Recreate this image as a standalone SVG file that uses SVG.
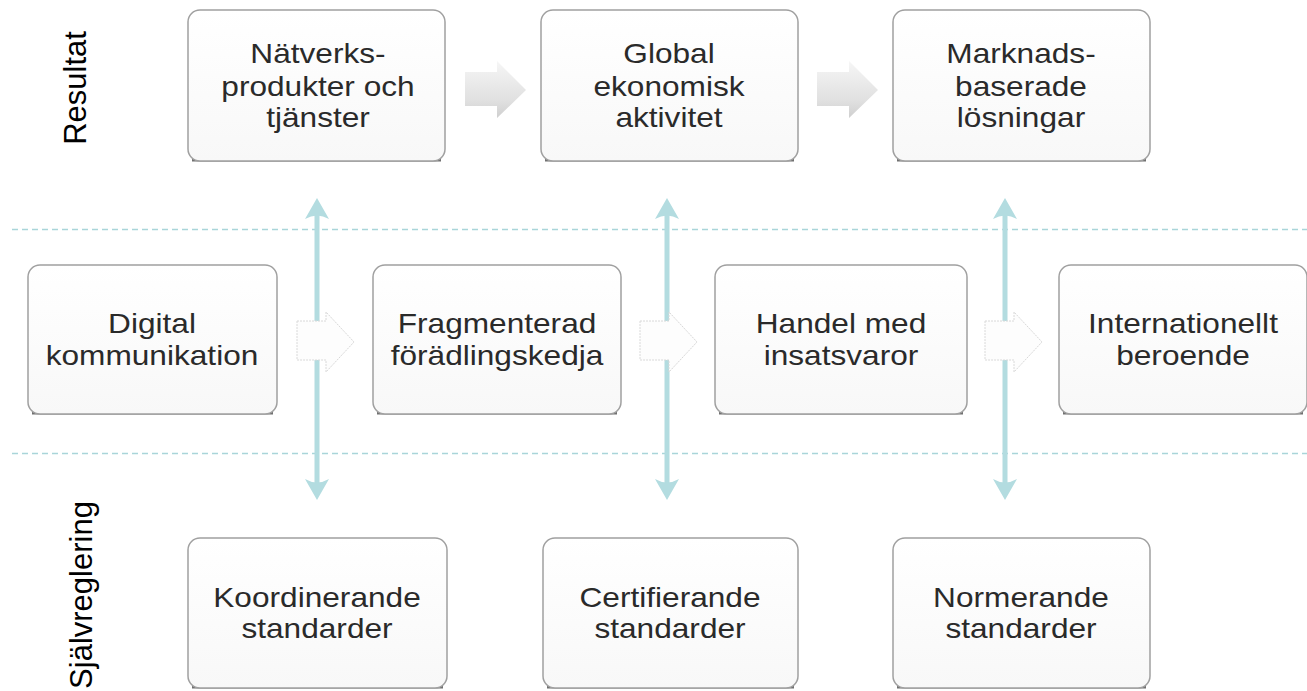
<svg xmlns="http://www.w3.org/2000/svg" width="1307" height="691" viewBox="0 0 1307 691">
<style>
.bx{fill:url(#bg);stroke:#a0a0a0;stroke-width:1.5}
.sh{fill:none;stroke:#707070;stroke-width:3}
.t{font-family:"Liberation Sans",Arial,sans-serif;font-size:28px;fill:#2a2a2a;text-anchor:middle}
.side{font-family:"Liberation Sans",Arial,sans-serif;font-size:31px;fill:#000;text-anchor:middle}
.dash{stroke:#a9d5d9;stroke-width:1.3;stroke-dasharray:6 4;fill:none}
.vc{stroke:#b3dce0;stroke-width:5;fill:none}
.ga{fill:url(#ag)}
.wa{fill:#fdfdfd;stroke:#d8d8d8;stroke-width:1;stroke-dasharray:2 1}
</style>
<defs>
<linearGradient id="bg" x1="0" y1="0" x2="0" y2="1"><stop offset="0" stop-color="#ffffff"/><stop offset="1" stop-color="#f8f8f8"/></linearGradient>
<linearGradient id="ag" x1="0" y1="0" x2="0" y2="1"><stop offset="0" stop-color="#f6f6f6"/><stop offset="0.7" stop-color="#e0e0e0"/><stop offset="1" stop-color="#cfcfcf"/></linearGradient>
</defs>
<rect width="1307" height="691" fill="#ffffff"/>

<g id="bands">
<line class="dash" x1="12" y1="229.5" x2="1307" y2="229.5"/>
<line class="dash" x1="12" y1="453.5" x2="1307" y2="453.5"/>
</g>

<g id="labels">
<text class="side" transform="translate(86,88) rotate(-90)">Resultat</text>
<text class="side" transform="translate(92,595) rotate(-90)">Självreglering</text>
</g>

<g id="connectors">
<path class="vc" d="M317 204 V494"/>
<path d="M317 198 L305 219 Q317 212 329 219 Z" fill="#b3dce0"/>
<path d="M317 500 L305 479 Q317 486 329 479 Z" fill="#b3dce0"/>
<path class="vc" d="M667 204 V494"/>
<path d="M667 198 L655 219 Q667 212 679 219 Z" fill="#b3dce0"/>
<path d="M667 500 L655 479 Q667 486 679 479 Z" fill="#b3dce0"/>
<path class="vc" d="M1005 204 V494"/>
<path d="M1005 198 L993 219 Q1005 212 1017 219 Z" fill="#b3dce0"/>
<path d="M1005 500 L993 479 Q1005 486 1017 479 Z" fill="#b3dce0"/>
<path class="ga" d="M465 72 H497 V61 L526 90 L497 118 V106 H465 Z"/>
<path class="ga" d="M817 72 H849 V61 L878 90 L849 118 V106 H817 Z"/>
<path class="wa" d="M297 321 H326 V312 L354 342 L326 372 V360 H297 Z"/>
<path class="wa" d="M640 321 H669 V312 L697 342 L669 372 V360 H640 Z"/>
<path class="wa" d="M985 321 H1014 V312 L1042 342 L1014 372 V360 H985 Z"/>
</g>

<g id="n1">
<path class="sh" d="M192 160 H441"/>
<rect class="bx" x="188" y="10" width="257" height="151" rx="12"/>
<g transform="translate(318 0) scale(1.13 1)">
<text class="t" x="0" y="63">Nätverks-</text>
<text class="t" x="0" y="96">produkter och</text>
<text class="t" x="0" y="127">tjänster</text>
</g>
</g>
<g id="n2">
<path class="sh" d="M545 160 H794"/>
<rect class="bx" x="541" y="10" width="257" height="151" rx="12"/>
<g transform="translate(669 0) scale(1.13 1)">
<text class="t" x="0" y="63">Global</text>
<text class="t" x="0" y="96">ekonomisk</text>
<text class="t" x="0" y="127">aktivitet</text>
</g>
</g>
<g id="n3">
<path class="sh" d="M897 160 H1146"/>
<rect class="bx" x="893" y="10" width="257" height="151" rx="12"/>
<g transform="translate(1021 0) scale(1.13 1)">
<text class="t" x="0" y="63">Marknads-</text>
<text class="t" x="0" y="96">baserade</text>
<text class="t" x="0" y="127">lösningar</text>
</g>
</g>

<g id="n4">
<path class="sh" d="M32 413 H273"/>
<rect class="bx" x="28" y="265" width="249" height="149" rx="12"/>
<g transform="translate(152 0) scale(1.13 1)">
<text class="t" x="0" y="333">Digital</text>
<text class="t" x="0" y="365">kommunikation</text>
</g>
</g>
<g id="n5">
<path class="sh" d="M377 413 H617"/>
<rect class="bx" x="373" y="265" width="248" height="149" rx="12"/>
<g transform="translate(497 0) scale(1.13 1)">
<text class="t" x="0" y="333">Fragmenterad</text>
<text class="t" x="0" y="365">förädlingskedja</text>
</g>
</g>
<g id="n6">
<path class="sh" d="M719 413 H963"/>
<rect class="bx" x="715" y="265" width="252" height="149" rx="12"/>
<g transform="translate(841 0) scale(1.13 1)">
<text class="t" x="0" y="333">Handel med</text>
<text class="t" x="0" y="365">insatsvaror</text>
</g>
</g>
<g id="n7">
<path class="sh" d="M1063 413 H1303"/>
<rect class="bx" x="1059" y="265" width="248" height="149" rx="12"/>
<g transform="translate(1183 0) scale(1.13 1)">
<text class="t" x="0" y="333">Internationellt</text>
<text class="t" x="0" y="365">beroende</text>
</g>
</g>

<g id="n8">
<path class="sh" d="M192 687 H443"/>
<rect class="bx" x="188" y="538" width="259" height="150" rx="12"/>
<g transform="translate(317 0) scale(1.13 1)">
<text class="t" x="0" y="607">Koordinerande</text>
<text class="t" x="0" y="638">standarder</text>
</g>
</g>
<g id="n9">
<path class="sh" d="M547 687 H794"/>
<rect class="bx" x="543" y="538" width="255" height="150" rx="12"/>
<g transform="translate(670 0) scale(1.13 1)">
<text class="t" x="0" y="607">Certifierande</text>
<text class="t" x="0" y="638">standarder</text>
</g>
</g>
<g id="n10">
<path class="sh" d="M897 687 H1146"/>
<rect class="bx" x="893" y="538" width="257" height="150" rx="12"/>
<g transform="translate(1021 0) scale(1.13 1)">
<text class="t" x="0" y="607">Normerande</text>
<text class="t" x="0" y="638">standarder</text>
</g>
</g>
</svg>
